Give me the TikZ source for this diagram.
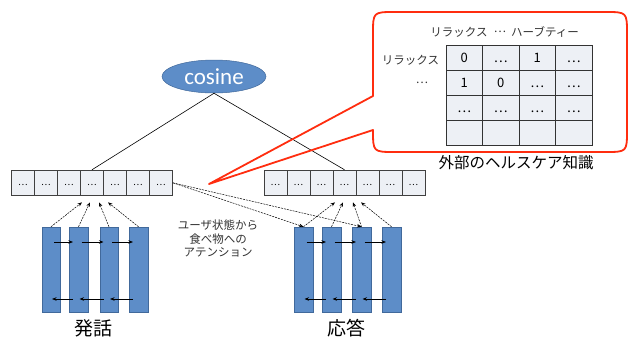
\documentclass[tikz,border=0pt]{standalone}
\usepackage{fontspec}
\setmainfont{Noto Sans CJK JP}
\newfontfamily\calib{Carlito}
\usetikzlibrary{calc,arrows.meta,shapes.geometric}
\definecolor{barblue}{RGB}{93,141,200}
\definecolor{barline}{RGB}{65,105,155}
\definecolor{cellfill}{RGB}{237,240,245}
\definecolor{calloutred}{RGB}{255,45,15}
\definecolor{txtgray}{RGB}{50,50,50}
\begin{document}
\begin{tikzpicture}[x=1pt,y=-1pt,
  cell/.style={draw=black!75, fill=cellfill, minimum width=23pt, minimum height=25.5pt,
    inner sep=0pt, text height=6pt, text depth=0pt, font=\fontsize{9}{9}\selectfont, line width=0.6pt},
  tcell/.style={draw=black!80, fill=cellfill, minimum width=36.5pt, minimum height=25pt,
    inner sep=0pt, text height=8pt, text depth=0pt, font=\fontsize{13}{13}\selectfont, line width=0.6pt},
  vbar/.style={draw=barline, fill=barblue, minimum width=18.5pt, minimum height=85pt,
    inner sep=0pt, line width=0.5pt},
  dasharrow/.style={dash pattern=on 2pt off 1pt, -{Stealth[length=4.5pt,width=3.5pt]}, line width=0.5pt},
  flowarrow/.style={-{Stealth[length=4.5pt,width=3.5pt]}, line width=0.7pt},
  hdr/.style={font=\fontsize{11.5}{11.5}\selectfont, text=txtgray, inner sep=0pt},
]
\useasboundingbox (0,0) rectangle (628,340);

% ellipse
\node[ellipse, fill=barblue, draw=barline, line width=0.5pt, minimum width=104pt, minimum height=33pt,
  inner sep=0pt, text=white, font=\calib\fontsize{23}{23}\selectfont] (cos) at (214,76.5) {cosine};

% cell rows
\foreach \i in {1,...,7} {
  \node[cell] (L\i) at ({11.5+23*(\i-0.5)},182.8) {\ldots};
  \node[cell] (R\i) at ({264+23*(\i-0.5)},182.8) {\ldots};
}
\draw[line width=0.6pt] (cos.south) -- (L4.north);
\draw[line width=0.6pt] (cos.south) -- (R4.north);

% bars
\node[vbar] (A1) at (51,269.5) {};
\node[vbar] (A2) at (78.5,269.5) {};
\node[vbar] (A3) at (109,269.5) {};
\node[vbar] (A4) at (138.5,269.5) {};
\node[vbar] (B1) at (303.5,269.5) {};
\node[vbar] (B2) at (331.5,269.5) {};
\node[vbar] (B3) at (361.5,269.5) {};
\node[vbar] (B4) at (391.5,269.5) {};

% horizontal arrows in bars
\foreach \a/\b in {A1/A2,A2/A3,A3/A4,B1/B2,B2/B3,B3/B4} {
  \draw[flowarrow] ($(\a.center)+(3,-27.5)$) -- ($(\b.west)+(4,-27.5)$);
  \draw[flowarrow] ($(\b.west)+(4,29.5)$) -- ($(\a.center)+(1,29.5)$);
}

% dashed arrows to rows
\draw[dasharrow] (A1.north) -- ($(L4.south)+(-10,6.5)$);
\draw[dasharrow] (A2.north) -- ($(L4.south)+(-2,6.5)$);
\draw[dasharrow] (A3.north) -- ($(L4.south)+(7,6.5)$);
\draw[dasharrow] (A4.north) -- ($(L5.south)+(-7,6.5)$);
\draw[dasharrow] (B1.north) -- ($(R4.south)+(-9.5,6.5)$);
\draw[dasharrow] (B2.north) -- ($(R4.south)+(-1.5,6.5)$);
\draw[dasharrow] (B3.north) -- ($(R4.south)+(8.5,6.5)$);
\draw[dasharrow] (B4.north) -- ($(R5.south)+(-6.5,6.5)$);

% attention arrows
\draw[dasharrow] (L7.east) -- (B1.north);
\draw[dasharrow] (L7.east) -- (B3.north);
\node[align=center, font=\fontsize{11.5}{13.5}\selectfont, text=txtgray] (att) at (218,238.5)
  {ユーザ状態から\\食べ物への\\アテンション};

% labels
\node[font=\fontsize{19}{19}\selectfont] (utt) at (93,328.5) {発話};
\node[font=\fontsize{19}{19}\selectfont] (resp) at (346,328.5) {応答};

% callout
\coordinate (tip) at (209,184);
\draw[calloutred, line width=1.8pt, line join=round] (373,96) -- (tip) -- (373,130)
  .. controls (373,152) .. (395,152) -- (605,152) .. controls (627,152) .. (627,130)
  -- (627,34) .. controls (627,12) .. (605,12) -- (395,12) .. controls (373,12) .. (373,34) -- cycle;

% table
\foreach \r/\rowvals in {1/{0,\ldots,1,\ldots},2/{1,0,\ldots,\ldots},3/{\ldots,\ldots,\ldots,\ldots},4/{{},{},{},{}}} {
  \foreach \v [count=\c] in \rowvals {
    \node[tcell] (T\r\c) at ({446+36.5*(\c-0.5)},{45.7+25*(\r-0.5)}) {\v};
  }
}
\node[hdr] (h1) at (459,32) {リラックス};
\node[hdr] (h2) at (500,32) {\ldots};
\node[hdr] (h3) at (545,32) {ハーブティー};
\node[hdr] (r1) at (410.5,60) {リラックス};
\node[hdr] (r2) at (422,83) {\ldots};
\node[font=\fontsize{15.5}{15.5}\selectfont, inner sep=0pt] (kn) at (516,163) {外部のヘルスケア知識};
\end{tikzpicture}
\end{document}
